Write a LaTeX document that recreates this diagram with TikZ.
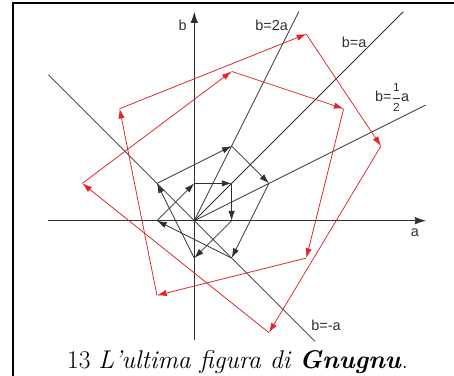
\documentclass[tikz,border=0pt]{standalone}
\usepackage{amsmath}
\usepackage{fontspec}
\newfontfamily\lblfont{Liberation Sans}
\usetikzlibrary{arrows.meta}
\definecolor{gnuRed}{HTML}{E0262A}
\definecolor{gnuGrey}{HTML}{303030}

\begin{document}
\begin{tikzpicture}[
  every node/.style={font=\lblfont\fontsize{11}{13}\selectfont, inner sep=1pt, gnuGrey},
  axis/.style={-{Latex[length=3mm,width=2mm]}, gnuGrey, line width=0.6pt},
  ray/.style={gnuGrey, line width=0.6pt},
  orbitK/.style={-{Latex[length=2.6mm,width=1.7mm]}, gnuGrey, line width=0.6pt},
  orbitR/.style={-{Latex[length=2.6mm,width=1.7mm]}, gnuRed, line width=0.6pt},
  frameline/.style={line width=1.5pt, black}
]
  \useasboundingbox (-5.205,-4.160) rectangle (6.957,5.912);
  % frame
  \draw[frameline] (-4.857,-4.2) -- (-4.857,5.832) -- (7,5.832);
  % axes and lines
  \coordinate (O)  at (0,0);
  \coordinate (aL) at (-3.91,0);
  \coordinate (aR) at (6.21,0);
  \coordinate (bB) at (0,-3.2);
  \coordinate (bT) at (0,5.6);
  \coordinate (r2) at (2.8,5.6);
  \coordinate (r1) at (5.6,5.6);
  \coordinate (rh) at (6.2,3.1);
  \coordinate (mL) at (-3.91,3.91);
  \coordinate (mR) at (3.23,-3.23);
  \draw[axis] (aL) -- (aR);
  \draw[axis] (bB) -- (bT);
  \draw[ray] (O) -- (r2);
  \draw[ray] (O) -- (r1);
  \draw[ray] (O) -- (rh);
  \draw[ray] (mL) -- (mR);
  % inner orbit
  \foreach \x/\y [count=\i] in {0/1,1/1,1/0,0/-1,-1/1,1/2,2/1,1/-1,-1/0}
    \coordinate (k\i) at (\x,\y);
  \foreach \i/\j in {1/2,2/3,3/4,4/5,5/6,6/7,7/8,8/9,9/1}
    \draw[orbitK] (k\i) -- (k\j);
  % outer orbit
  \foreach \x/\y [count=\i] in {-3/1,1/4,4/3,3/-1,-1/-2,-2/3,3/5,5/2,2/-3}
    \coordinate (g\i) at (\x,\y);
  \foreach \i/\j in {1/2,2/3,3/4,4/5,5/6,6/7,7/8,8/9,9/1}
    \draw[orbitR] (g\i) -- (g\j);
  % labels
  \node (la) at (5.91,-0.31) {a};
  \node (lb) at (-0.31,5.24) {b};
  \node (l2a) at (2.07,5.24) {b=2a};
  \node (l1a) at (4.28,4.79) {b=a};
  \node (lha) at (5.3,3.3)
    {b=$\dfrac{\text{\fontsize{9}{9}\selectfont 1}}{\text{\fontsize{9}{9}\selectfont 2}}$a};
  \node (lma) at (3.53,-2.79) {b=-a};
  % caption
  \node[font=\rmfamily\fontsize{19.5}{23}\selectfont, black] (cap) at (1.16,-3.8)
    {13 \textit{L’ultima figura di} \textbf{\textit{Gnugnu}}.};
\end{tikzpicture}
\end{document}
